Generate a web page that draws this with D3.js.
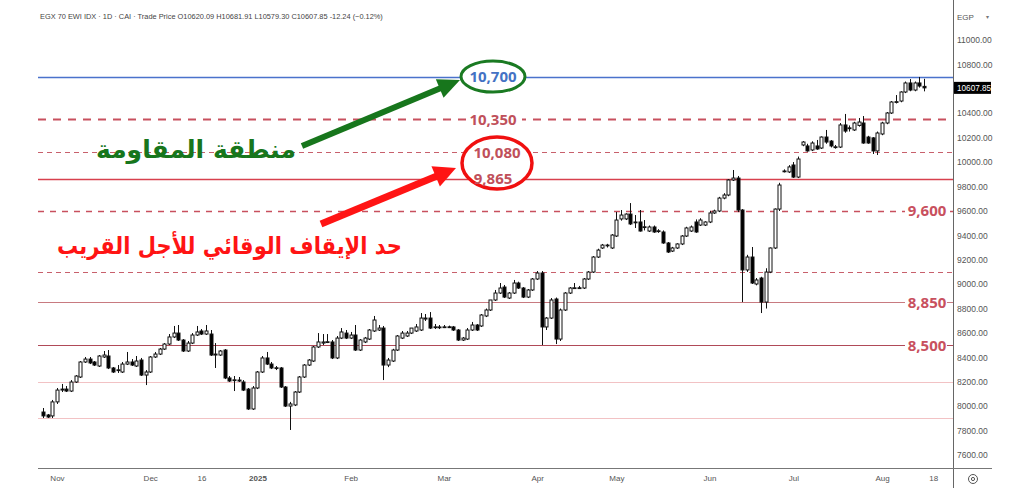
<!DOCTYPE html>
<html>
<head>
<meta charset="utf-8">
<script src="https://cdn.jsdelivr.net/npm/d3@7"></script>
<style>
  html, body { margin: 0; padding: 0; background: #fff; }
  svg { display: block; }
</style>
</head>
<body>
<svg id="chart" width="1017" height="491"></svg>
<script>
// ---------------- DATA ----------------
const opens = [
7952,7928,7920,8035,8132,8140,8124,8198,8239,8362,
8386,8362,8329,8403,8411,8313,8296,8280,8345,8362,
8329,8378,8255,8280,8403,8427,8468,8509,8567,8599,
8542,8452,8517,8583,8616,8591,8591,8419,8419,8460,
8231,8214,8214,8198,8140,7977,8149,8280,8395,8345,
8313,8313,8157,8001,8010,8116,8239,8337,8370,8485,
8517,8526,8526,8395,8558,8599,8558,8583,8460,8526,
8550,8616,8624,8640,8337,8370,8460,8558,8575,8599,
8616,8624,8714,8722,8649,8649,8649,8650,8649,8624,
8542,8550,8624,8665,8657,8739,8788,8870,8927,8976,
8886,8927,9009,8968,8894,8952,9042,9091,8649,8722,
8878,8550,8788,8927,8968,8970,8968,9042,9099,9222,
9296,9320,9296,9394,9534,9534,9574,9509,9509,9468,
9435,9468,9435,9427,9337,9271,9296,9329,9394,9435,
9509,9484,9484,9509,9583,9599,9705,9730,9853,9869,
9607,9116,9222,9001,9050,8853,9099,9296,9615,9927,
9919,9976,9877,10140,10132,10099,10132,10115,10205,10172,
10123,10123,10304,10280,10263,10300,10320,10205,10198,10091,
10230,10320,10402,10490,10500,10574,10648,10590,10648,10620.09
];
const highs = [
7985,7936,8051,8149,8182,8165,8214,8255,8370,8403,
8403,8370,8419,8452,8460,8321,8337,8362,8444,8386,
8411,8395,8296,8411,8444,8477,8517,8591,8657,8665,
8550,8534,8599,8657,8632,8665,8624,8517,8460,8468,
8247,8247,8239,8214,8149,8165,8288,8411,8444,8362,
8329,8321,8165,8035,8124,8247,8345,8386,8493,8599,
8591,8591,8542,8575,8640,8624,8608,8665,8550,8567,
8632,8739,8665,8657,8395,8470,8583,8616,8616,8640,
8673,8763,8755,8771,8673,8665,8665,8660,8657,8632,
8567,8640,8690,8673,8755,8800,8870,8952,9009,8993,
8935,9034,9020,8976,8960,9050,9107,9107,8730,8886,
8890,8800,8935,8976,9009,8985,9050,9107,9230,9290,
9329,9330,9410,9591,9607,9580,9664,9566,9607,9525,
9480,9480,9450,9440,9345,9305,9335,9402,9470,9480,
9530,9540,9515,9600,9610,9715,9745,9860,9935,9886,
9615,9240,9304,9050,9060,9130,9300,9620,9830,9940,
9975,10000,10045,10172,10150,10170,10181,10210,10263,10180,
10140,10320,10394,10300,10330,10361,10377,10215,10205,10250,
10330,10410,10500,10549,10580,10660,10680,10660,10697,10681.91
];
const lows = [
7903,7903,7903,8018,8116,8116,8116,8190,8231,8354,
8345,8329,8321,8395,8304,8272,8272,8272,8337,8329,
8321,8247,8173,8272,8395,8419,8460,8501,8558,8534,
8444,8444,8509,8575,8583,8583,8411,8313,8411,8222,
8198,8124,8198,8124,7969,7969,8140,8272,8337,8304,
8296,8149,7993,7805,8001,8108,8231,8329,8362,8477,
8501,8517,8386,8386,8550,8550,8550,8452,8452,8517,
8542,8608,8616,8214,8320,8362,8452,8550,8567,8591,
8608,8616,8698,8632,8632,8632,8640,8640,8616,8534,
8534,8542,8616,8616,8649,8730,8780,8862,8919,8886,
8878,8919,8960,8886,8886,8944,9034,8501,8624,8714,
8509,8534,8780,8919,8960,8960,8960,9034,9091,9214,
9288,9300,9288,9386,9520,9525,9484,9460,9430,9440,
9427,9420,9420,9330,9255,9263,9288,9320,9386,9427,
9420,9476,9476,9500,9575,9590,9695,9720,9845,9590,
8853,9100,9001,8990,8763,8800,9090,9288,9599,9915,
9910,9870,9869,10130,10085,10090,10100,10107,10150,10120,
10110,10115,10240,10250,10255,10290,10150,10150,10066,10058,
10220,10310,10394,10480,10490,10565,10580,10580,10610,10579.30
];
const closes = [
7920,7911,8035,8132,8140,8124,8198,8247,8362,8386,
8354,8337,8411,8419,8313,8280,8298,8345,8362,8337,
8370,8255,8280,8403,8427,8468,8509,8567,8599,8542,
8452,8517,8583,8608,8591,8616,8419,8427,8452,8231,
8206,8216,8206,8132,7977,8149,8280,8395,8345,8313,
8315,8157,8001,8018,8116,8239,8337,8378,8485,8526,
8526,8528,8395,8558,8608,8558,8583,8460,8542,8558,
8624,8706,8640,8337,8378,8460,8575,8599,8599,8640,
8649,8722,8722,8640,8650,8648,8650,8649,8624,8542,
8558,8624,8665,8624,8747,8788,8870,8927,8968,8894,
8927,9009,8968,8894,8952,9042,9091,8649,8722,8870,
8550,8788,8927,8968,8970,8968,9042,9099,9222,9279,
9320,9318,9402,9525,9566,9574,9493,9505,9435,9470,
9468,9427,9437,9337,9263,9296,9329,9394,9460,9468,
9427,9525,9509,9583,9599,9705,9730,9853,9869,9607,
9116,9222,9009,9034,8853,9099,9296,9615,9812,9927,
9960,9877,10025,10164,10091,10156,10107,10205,10164,10132,
10125,10304,10254,10275,10320,10328,10156,10156,10091,10238,
10320,10402,10492,10495,10574,10648,10590,10648,10623,10607.85
];

const yTicks = [11000,10800,10600,10400,10200,10000,9800,9600,9400,9200,9000,8800,8600,8400,8200,8000,7800,7600];
const timeLabels = ["Nov","Dec","16","2025","Feb","Mar","Apr","May","Jun","Jul","Aug","18"];
const timeIndex  = [3, 23, 34, 46, 66, 86, 106, 123, 143, 161, 180, 191];

const levelValues = [10700, 10350, 10080, 9865, 9600, 9100, 8850, 8500, 8200, 7900];
const midLabels   = ["10,700", "10,350", "10,080", "9,865"];
const midValues   = [10700, 10350, 10080, 9865];
const rightLabels = ["9,600", "8,850", "8,500"];
const rightValues = [9600, 8850, 8500];

const lastPrice = 10607.85;
const headerText = "EGX 70 EWI IDX · 1D · CAI  · Trade Price  O10620.09  H10681.91  L10579.30  C10607.85  -12.24 (−0.12%)";
const resistanceText = "منطقة المقاومة";
const stopText = "حد الإيقاف الوقائي للأجل القريب";

// ---------------- LAYOUT ----------------
const svg = d3.select("#chart");
const W = 1017, H = 491;
const plotL = 38, plotR = 953, plotB = 468;

const x = d3.scaleLinear().domain([0, opens.length - 1]).range([43, 924]);
const y = d3.scaleLinear().domain([7600, 11000]).range([455, 40]);

svg.append("rect").attr("width", W).attr("height", H).attr("fill", "#fff");

// level line styles
const levelStyle = {
  10700: {stroke: "#4a72cc", width: 1.5, dash: null},
  10350: {stroke: "#c8505e", width: 2, dash: "8,7"},
  10080: {stroke: "#c8606c", width: 1.2, dash: "5,4"},
  9865:  {stroke: "#d8404e", width: 1.5, dash: null},
  9600:  {stroke: "#c8505e", width: 1.5, dash: "6,6"},
  9100:  {stroke: "#c8606c", width: 1.2, dash: "5,4"},
  8850:  {stroke: "#c87a80", width: 1.2, dash: null},
  8500:  {stroke: "#b04a58", width: 1, dash: null},
  8200:  {stroke: "#f2c2c4", width: 1, dash: null},
  7900:  {stroke: "#f2c2c4", width: 1, dash: null}
};

const gLevels = svg.append("g");
levelValues.forEach(v => {
  const s = levelStyle[v];
  const yy = Math.round(y(v)) + 0.5;
  gLevels.append("line")
    .attr("x1", plotL).attr("x2", plotR)
    .attr("y1", yy).attr("y2", yy)
    .attr("stroke", s.stroke).attr("stroke-width", s.width)
    .attr("stroke-dasharray", s.dash);
});

// ---------------- CANDLES ----------------
const gC = svg.append("g");
const bodyW = 3;
opens.forEach((o, i) => {
  const c = closes[i], h = highs[i], l = lows[i];
  const cx = Math.round(x(i)) + 0.5;
  const up = c >= o;
  gC.append("line")
    .attr("x1", cx).attr("x2", cx)
    .attr("y1", y(h)).attr("y2", y(l))
    .attr("stroke", "#111").attr("stroke-width", 1);
  const top = y(Math.max(o, c)), bot = y(Math.min(o, c));
  gC.append("rect")
    .attr("x", cx - bodyW / 2).attr("width", bodyW)
    .attr("y", top).attr("height", Math.max(0.8, bot - top))
    .attr("fill", up ? "#fff" : "#000")
    .attr("stroke", "#111").attr("stroke-width", 1);
});

// ---------------- AXES ----------------
svg.append("line").attr("x1", plotR + 0.5).attr("x2", plotR + 0.5)
  .attr("y1", 0).attr("y2", 488).attr("stroke", "#666").attr("stroke-width", 1);
svg.append("line").attr("x1", plotL).attr("x2", 992)
  .attr("y1", plotB + 0.5).attr("y2", plotB + 0.5).attr("stroke", "#777").attr("stroke-width", 1);

const yAxis = d3.axisRight(y).tickValues(yTicks).tickSize(0).tickPadding(4)
  .tickFormat(d => d3.format(".2f")(d));
const gy = svg.append("g").attr("transform", `translate(${plotR},0)`).call(yAxis);
gy.select(".domain").remove();
gy.selectAll("text")
  .attr("font-family", "Liberation Sans, Arial, sans-serif")
  .attr("font-size", 8.5).attr("fill", "#555")
  .style("display", d => Math.abs(y(d) - y(lastPrice)) < 9 ? "none" : null);

const xAxis = d3.axisBottom(x).tickValues(timeIndex).tickSize(0).tickPadding(7)
  .tickFormat((d, i) => timeLabels[i]);
const gx = svg.append("g").attr("transform", `translate(0,${plotB})`).call(xAxis);
gx.select(".domain").remove();
gx.selectAll("text")
  .attr("font-family", "Liberation Sans, Arial, sans-serif")
  .attr("font-size", 8).attr("fill", "#555")
  .attr("font-weight", (d, i) => timeLabels[i] === "2025" ? "bold" : null);

// last price tag
const lpY = y(lastPrice);
svg.append("rect").attr("x", plotR + 1).attr("y", lpY - 6).attr("width", 37).attr("height", 12).attr("fill", "#000");
svg.append("text").attr("x", plotR + 4).attr("y", lpY + 3)
  .attr("font-family", "Liberation Sans, Arial, sans-serif").attr("font-size", 8.2)
  .attr("fill", "#fff").text(d3.format(".2f")(lastPrice));

// EGP currency
svg.append("text").attr("x", 957).attr("y", 20)
  .attr("font-family", "Liberation Sans, Arial, sans-serif").attr("font-size", 8)
  .attr("fill", "#555").text("EGP");
svg.append("text").attr("x", 986).attr("y", 19)
  .attr("font-family", "DejaVu Sans, sans-serif").attr("font-size", 6)
  .attr("fill", "#777").text("▾");
svg.append("circle").attr("cx", 973).attr("cy", 479).attr("r", 4.5).attr("fill", "none").attr("stroke", "#555").attr("stroke-width", 1);
svg.append("circle").attr("cx", 973).attr("cy", 479).attr("r", 1.6).attr("fill", "none").attr("stroke", "#555").attr("stroke-width", 1);

// header
svg.append("text").attr("x", 40).attr("y", 19)
  .attr("font-family", "Liberation Sans, Arial, sans-serif").attr("font-size", 7.4)
  .attr("fill", "#444").text(headerText);

// ---------------- ANNOTATIONS ----------------
const labelFont = "Open Sans, Lato, sans-serif";

rightValues.forEach((v, i) => {
  const yy = y(v);
  svg.append("rect").attr("x", 905).attr("y", yy - 9).attr("width", 42).attr("height", 18).attr("fill", "#fff");
  svg.append("text").attr("x", 927).attr("y", yy + 5.5).attr("text-anchor", "middle")
    .attr("font-family", labelFont).attr("font-weight", "bold").attr("font-size", 15)
    .attr("fill", "#c8505e").text(rightLabels[i]);
});

svg.append("rect").attr("x", 466).attr("y", y(10350) - 9).attr("width", 56).attr("height", 18).attr("fill", "#fff");

svg.append("ellipse").attr("cx", 493).attr("cy", y(10700)).attr("rx", 32).attr("ry", 15.5)
  .attr("fill", "#fff").attr("stroke", "#1a7a22").attr("stroke-width", 3);
svg.append("ellipse").attr("cx", 497).attr("cy", 163).attr("rx", 35).attr("ry", 26)
  .attr("fill", "#fff").attr("stroke", "#f01010").attr("stroke-width", 3.5);

const midColors = ["#4472c4", "#c0505a", "#c0505a", "#c0505a"];
const midX = [493, 493, 497, 493];
midValues.forEach((v, i) => {
  svg.append("text").attr("x", midX[i]).attr("y", y(v) + 5.5).attr("text-anchor", "middle")
    .attr("font-family", labelFont).attr("font-weight", "bold").attr("font-size", 15)
    .attr("fill", midColors[i]).text(midLabels[i]);
});

function arrow(x1, y1, x2, y2, color, width, headLen, headHalf) {
  const dx = x2 - x1, dy = y2 - y1, len = Math.hypot(dx, dy);
  const ux = dx / len, uy = dy / len, nx = -uy, ny = ux;
  const bx = x2 - ux * headLen, by = y2 - uy * headLen;
  svg.append("line").attr("x1", x1).attr("y1", y1).attr("x2", bx + ux * 2).attr("y2", by + uy * 2)
    .attr("stroke", color).attr("stroke-width", width);
  svg.append("polygon")
    .attr("points", [[x2, y2], [bx + nx * headHalf, by + ny * headHalf], [bx - nx * headHalf, by - ny * headHalf]].map(p => p.join(",")).join(" "))
    .attr("fill", color);
}
arrow(302, 146, 460, 80, "#17761c", 6, 22, 10);
arrow(321, 224, 456, 168, "#ff1414", 7, 22, 11);

// Arabic texts (right edge anchored)
svg.append("text").attr("x", 296).attr("y", 158).attr("text-anchor", "start")
  .attr("direction", "rtl")
  .attr("font-family", "DejaVu Sans, sans-serif").attr("font-weight", "bold").attr("font-size", 25)
  .attr("textLength", 200).attr("lengthAdjust", "spacingAndGlyphs")
  .attr("fill", "#17761c").text(resistanceText);
svg.append("text").attr("x", 402).attr("y", 254).attr("text-anchor", "start")
  .attr("direction", "rtl")
  .attr("font-family", "DejaVu Sans, sans-serif").attr("font-weight", "bold").attr("font-size", 24)
  .attr("textLength", 345).attr("lengthAdjust", "spacingAndGlyphs")
  .attr("fill", "#ff1414").text(stopText);
</script>
</body>
</html>
